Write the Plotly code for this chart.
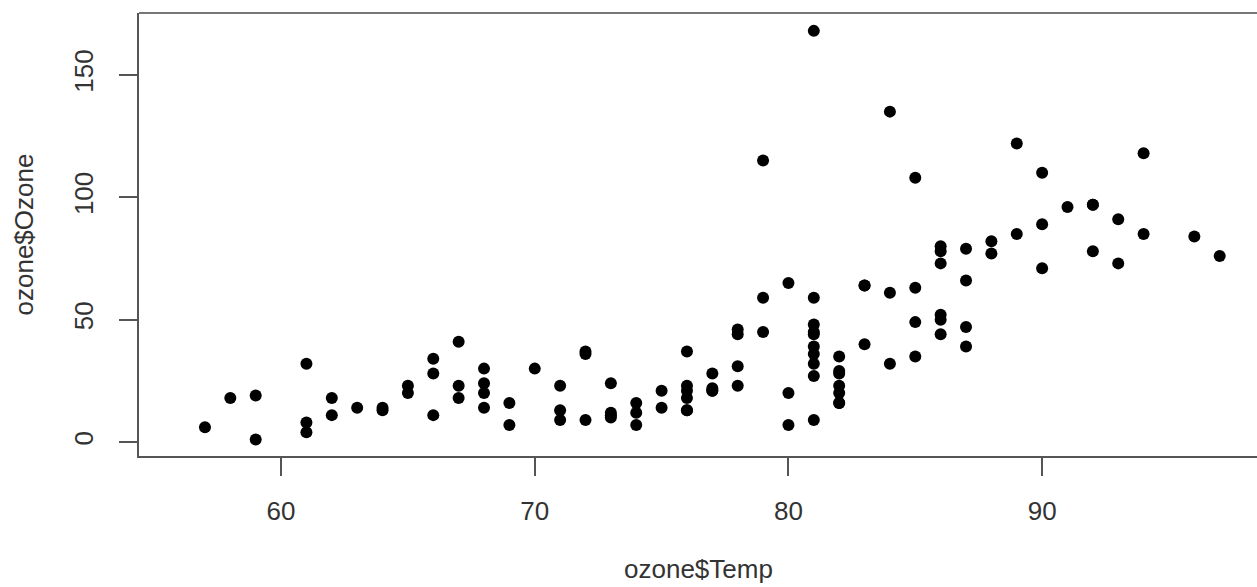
import plotly.graph_objects as go

# airquality: Ozone and Temp (None = NA, dropped by plotting)
ozone = [41, 36, 12, 18, None, 28, 23, 19, 8, None,
         7, 16, 11, 14, 18, 14, 34, 6, 30, 11,
         1, 11, 4, 32, None, None, None, 23, 45, 115,
         37, None, None, None, None, None, None, 29, None, 71,
         39, None, None, 23, None, None, 21, 37, 20, 12,
         13, None, None, None, None, None, None, None, None, None,
         None, 135, 49, 32, None, 64, 40, 77, 97, 97,
         85, None, 10, 27, None, 7, 48, 35, 61, 79,
         63, 16, None, None, 80, 108, 20, 52, 82, 50,
         64, 59, 39, 9, 16, 78, 35, 66, 122, 89,
         110, None, None, 44, 28, 65, None, 22, 59, 23,
         31, 44, 21, 9, None, 45, 168, 73, None, 76,
         118, 84, 85, 96, 78, 73, 91, 47, 32, 20,
         23, 21, 24, 44, 21, 28, 9, 13, 46, 18,
         13, 24, 16, 13, 23, 36, 7, 14, 30, None,
         14, 18, 20]
temp = [67, 72, 74, 62, 56, 66, 65, 59, 61, 69,
        74, 69, 66, 68, 58, 64, 66, 57, 68, 62,
        59, 73, 61, 61, 57, 58, 57, 67, 81, 79,
        76, 78, 74, 67, 84, 85, 79, 82, 87, 90,
        87, 93, 92, 82, 80, 79, 77, 72, 65, 73,
        76, 77, 76, 76, 76, 75, 78, 73, 80, 77,
        83, 84, 85, 81, 84, 83, 83, 88, 92, 92,
        89, 82, 73, 81, 91, 80, 81, 82, 84, 87,
        85, 74, 81, 82, 86, 85, 82, 86, 88, 86,
        83, 81, 81, 81, 82, 86, 85, 87, 89, 90,
        90, 92, 86, 86, 82, 80, 79, 77, 79, 76,
        78, 78, 77, 72, 75, 79, 81, 86, 88, 97,
        94, 96, 94, 91, 92, 93, 93, 87, 84, 80,
        78, 75, 73, 81, 76, 77, 71, 71, 78, 67,
        76, 68, 82, 64, 71, 81, 69, 63, 70, 77,
        75, 76, 68]

pairs = [(t, o) for t, o in zip(temp, ozone) if o is not None]
xs = [p[0] for p in pairs]
ys = [p[1] for p in pairs]

x_ticks = [60, 70, 80, 90]
y_ticks = [0, 50, 100, 150]
x_title = "ozone$Temp"
y_title = "ozone$Ozone"

FONT = "Liberation Sans, Arial, sans-serif"
LINE = "#555555"
TXT = "#333333"
FS = 26

fig = go.Figure()
fig.add_trace(go.Scatter(
    x=xs, y=ys, mode="markers",
    marker=dict(color="black", size=12, line=dict(width=0)),
    hoverinfo="skip", showlegend=False,
))

fig.update_layout(
    width=1257, height=587,
    margin=dict(l=139, r=0, t=13, b=131, pad=0),
    plot_bgcolor="white", paper_bgcolor="white",
    font=dict(family=FONT, size=FS, color=TXT),
    xaxis=dict(
        range=[54.4, 98.47], tickvals=x_ticks, ticktext=[str(v) for v in x_ticks],
        showgrid=False, zeroline=False, showline=True, linecolor=LINE, linewidth=2,
        ticks="outside", ticklen=18, tickwidth=2, tickcolor=LINE,
        ticklabelstandoff=13, tickfont=dict(size=FS, color=TXT),
    ),
    yaxis=dict(
        range=[-5.7, 175.3], tickvals=y_ticks, ticktext=[str(v) for v in y_ticks],
        showgrid=False, zeroline=False, showline=True, linecolor=LINE, linewidth=2,
        ticks="outside", ticklen=18, tickwidth=2, tickcolor=LINE,
        tickangle=-90, ticklabelstandoff=16, tickfont=dict(size=FS, color=TXT),
    ),
    shapes=[dict(type="line", xref="paper", yref="paper", x0=0, x1=1, y0=1, y1=1,
                 line=dict(color="#777777", width=2))],
    annotations=[
        dict(text=x_title, xref="paper", yref="paper", x=0.5, y=0,
             yshift=-113, showarrow=False, xanchor="center", yanchor="middle",
             font=dict(size=FS, color=TXT)),
        dict(text=y_title, xref="paper", yref="paper", x=0, y=0.5,
             xshift=-116, showarrow=False, textangle=-90, xanchor="center",
             yanchor="middle", font=dict(size=FS, color=TXT)),
    ],
)

fig.write_html(
    "out.html",
    config={"displayModeBar": False},
    post_script="document.body.style.margin='0';document.body.style.overflow='hidden';",
)
